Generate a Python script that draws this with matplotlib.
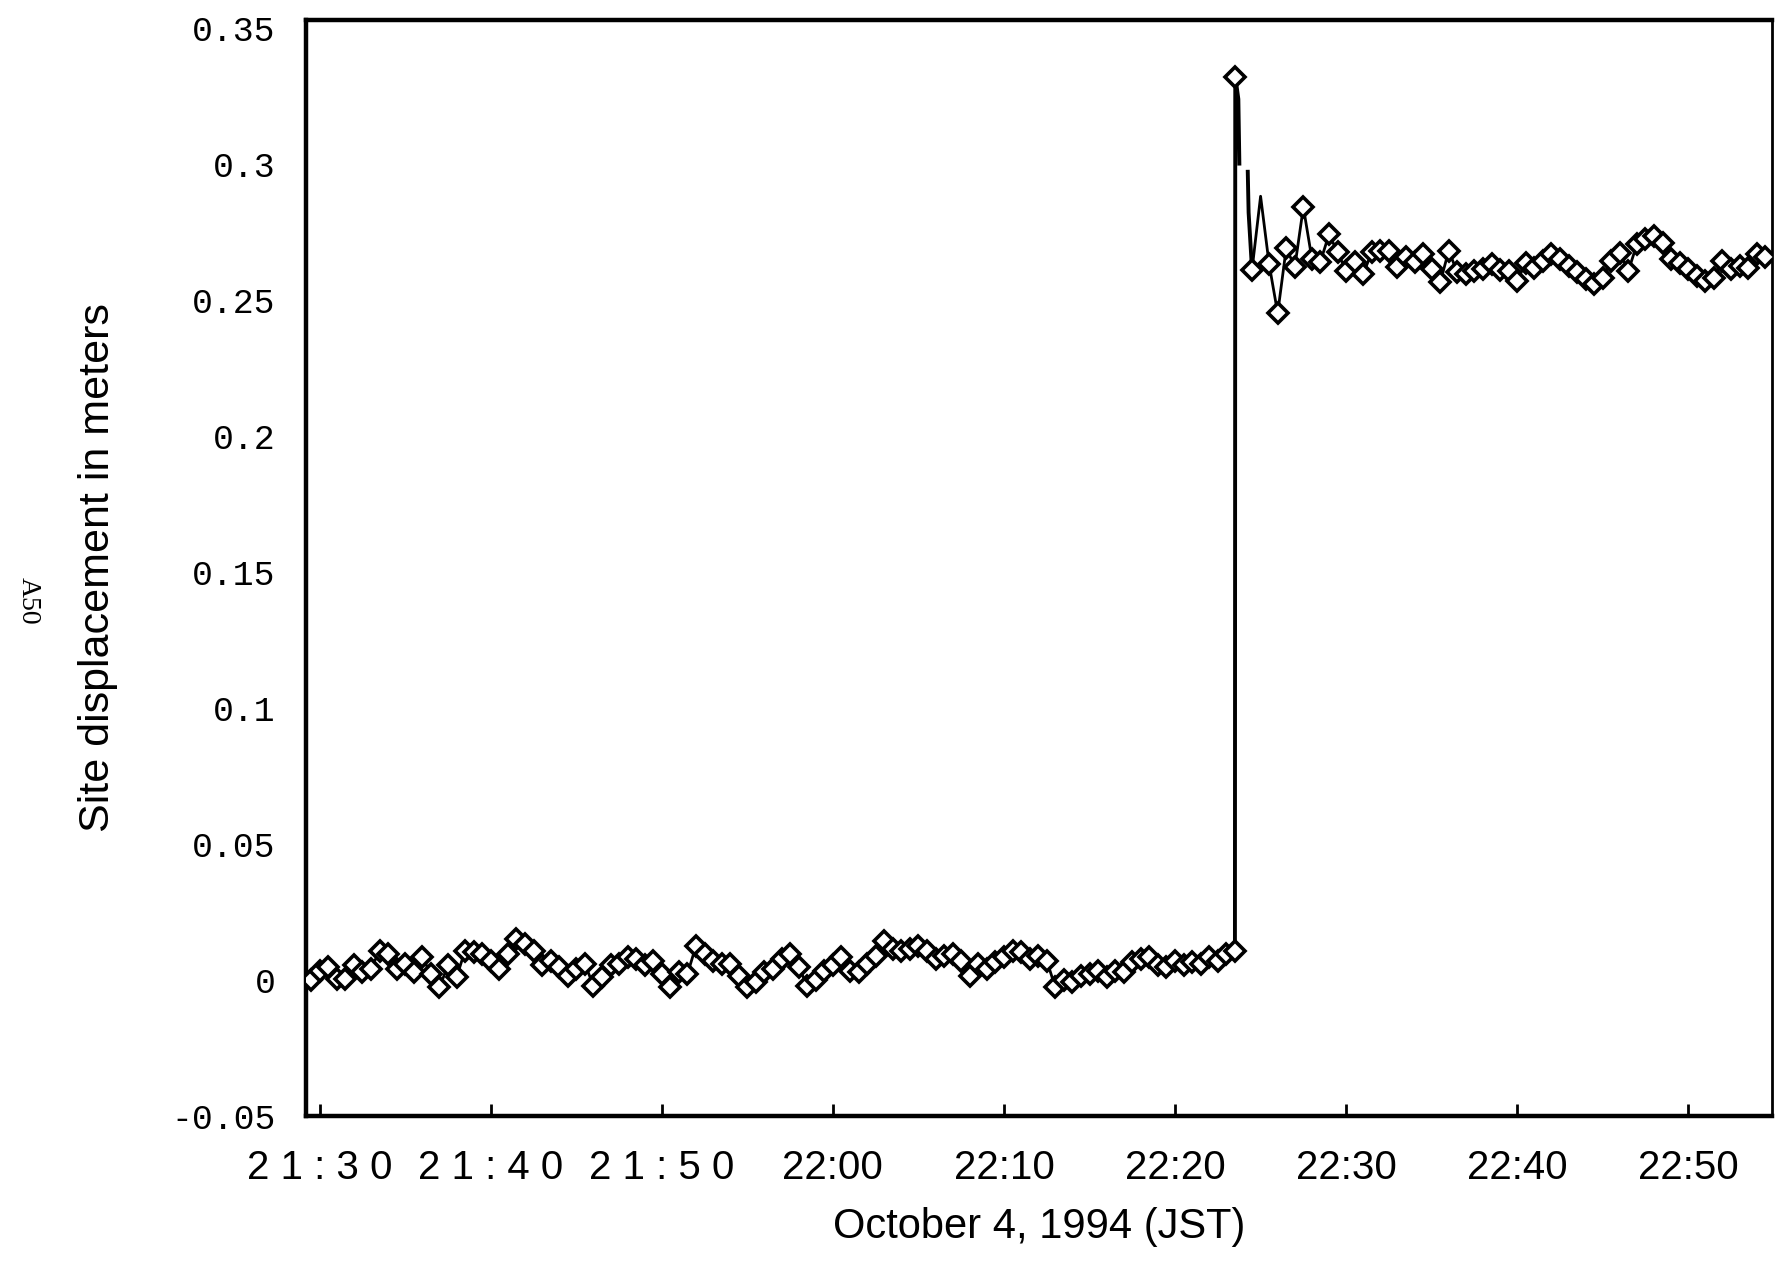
import numpy as np
import matplotlib.pyplot as plt

# time axis in minutes after 21:00 JST, samples every 30 s
sample_step = 0.5
pre_start = 29.5
post_start = 84.5

# site displacement (m) before the earthquake
pre_disp = [0.000, 0.0034, 0.0047, 0.0004, 0.0004, 0.0053, 0.0028, 0.0040, 0.0108, 0.0096,
            0.0040, 0.0059, 0.0028, 0.0083, 0.0022, -0.0027, 0.0053, 0.0010, 0.0108, 0.0102,
            0.0096, 0.0071, 0.0040, 0.0096, 0.0151, 0.0132, 0.0108, 0.0053, 0.0071, 0.0047,
            0.0016, 0.0040, 0.0059, -0.0021, 0.0010, 0.0053,
            0.0059, 0.0083, 0.0077, 0.0053, 0.0071, 0.0022, -0.0027, 0.0028, 0.0022, 0.0126,
            0.0096, 0.0071, 0.0059, 0.0059, 0.0016, -0.0027, -0.0009, 0.0028, 0.0040, 0.0077,
            0.0096, 0.0047, -0.0021, -0.0002, 0.0034, 0.0053, 0.0083, 0.0034, 0.0028, 0.0059,
            0.0089, 0.0144, 0.0114, 0.0108, 0.0114, 0.0126, 0.0108,
            0.0077, 0.0089, 0.0096, 0.0071, 0.0016, 0.0059, 0.0040, 0.0065, 0.0083, 0.0108,
            0.0102, 0.0077, 0.0089, 0.0071, -0.0027, -0.0002, -0.0009, 0.0016, 0.0022, 0.0034,
            0.0010, 0.0034, 0.0028, 0.0065, 0.0077, 0.0083, 0.0053, 0.0047, 0.0071, 0.0053,
            0.0065, 0.0059, 0.0083, 0.0071, 0.0096, 0.0108]

# after the earthquake
post_disp = [0.261, 0.288, 0.263, 0.245, 0.269, 0.262, 0.284, 0.265, 0.264, 0.274,
             0.2675, 0.2605, 0.264, 0.2594, 0.2675, 0.268, 0.268, 0.262, 0.2656, 0.264,
             0.2667, 0.2612, 0.2564, 0.268, 0.260, 0.2594, 0.2605, 0.2612, 0.263, 0.261,
             0.2606, 0.2569, 0.2636, 0.2618, 0.2643, 0.2667, 0.2649, 0.2624, 0.2600, 0.2575,
             0.2557, 0.2581, 0.2643, 0.2673, 0.2606, 0.2704, 0.2722, 0.2734, 0.2710, 0.2649,
             0.2636, 0.2612, 0.2587, 0.2569, 0.2581, 0.2643, 0.2612, 0.2624, 0.2618, 0.2667,
             0.2655]

# coseismic jump (line only, peak marked)
jump_t = [83.5, 83.52, 83.70, 83.76, np.nan, 84.25, 84.30, 84.5]
jump_disp = [0.0108, 0.332, 0.3237, 0.300, np.nan, 0.297, 0.282, 0.261]
peak_t, peak_disp = 83.52, 0.332

tick_min = [30, 40, 50, 60, 70, 80, 90, 100, 110]
tick_labels = ["2 1 : 3 0", "2 1 : 4 0", "2 1 : 5 0", "22:00", "22:10",
               "22:20", "22:30", "22:40", "22:50"]
y_ticks = [-0.05, 0, 0.05, 0.1, 0.15, 0.2, 0.25, 0.3, 0.35]
y_labels = ["-0.05", "0", "0.05", "0.1", "0.15", "0.2", "0.25", "0.3", "0.35"]

pre_t = pre_start + sample_step * np.arange(len(pre_disp))
post_t = post_start + sample_step * np.arange(len(post_disp))

fig = plt.figure(figsize=(17.76, 12.78), dpi=100)
ax = fig.add_axes([0.1723, 0.1268, 0.8255, 0.8576])

mk = dict(marker='D', markersize=10.5, markerfacecolor='white',
          markeredgecolor='black', markeredgewidth=2.6)

ax.plot(jump_t, jump_disp, color='black', lw=2.8, zorder=2)
ax.plot(pre_t, pre_disp, color='black', lw=2, zorder=3, **mk)
ax.plot(post_t, post_disp, color='black', lw=2, zorder=3,
        markevery=[i for i in range(len(post_disp)) if i != 1], **mk)
ax.plot([peak_t], [peak_disp], color='black', lw=0, zorder=4, **mk)

ax.set_xlim(29.2, 114.9)
ax.set_ylim(-0.05, 0.3528)

ax.set_xticks(tick_min)
ax.set_xticklabels(tick_labels, fontsize=29, family='Liberation Sans')
ax.tick_params(axis='x', direction='in', length=9, width=2, pad=24)

ax.set_yticks(y_ticks)
ax.set_yticklabels(y_labels, fontsize=25, family='Liberation Mono')
ax.tick_params(axis='y', length=0, pad=22)

for side, w in [('left', 3.2), ('top', 3.2), ('bottom', 3.2), ('right', 2.0)]:
    ax.spines[side].set_linewidth(w)

ax.set_xlabel("October 4, 1994 (JST)", fontsize=30, family='Liberation Sans', labelpad=14)
ax.set_ylabel("Site displacement in meters", fontsize=31, family='Liberation Sans', labelpad=38)
fig.text(0.016, 0.53, "A50", rotation=270, fontsize=20, family='Liberation Serif',
         ha='center', va='center')

fig.savefig("out.png", dpi=100)
